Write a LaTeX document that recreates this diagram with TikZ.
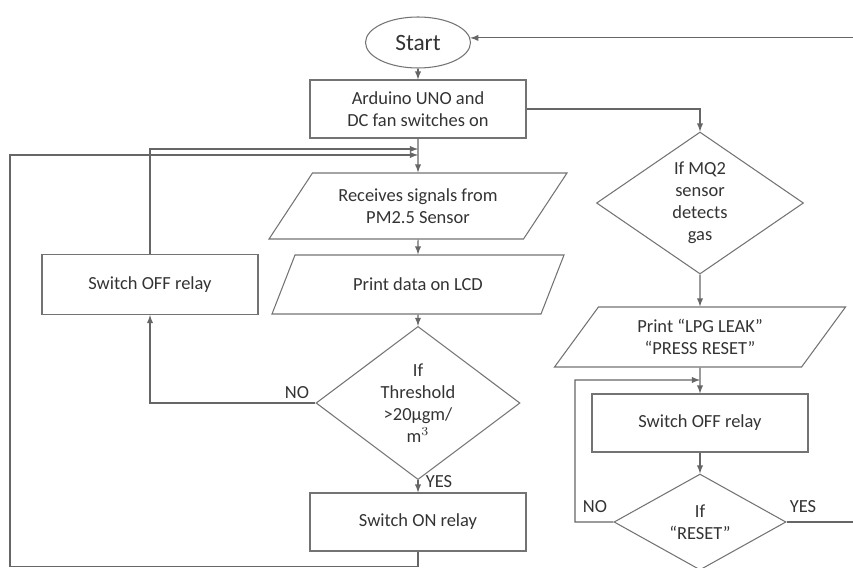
\documentclass[tikz,border=0pt]{standalone}
\usepackage{fontspec}
\setmainfont{Carlito}
\usetikzlibrary{shapes.geometric}

\begin{document}
\begin{tikzpicture}[
  box/.style={rectangle, draw=black!55, line width=0.6pt, minimum width=4.32cm, minimum height=1.16cm, align=center},
  io/.style={trapezium, trapezium left angle=47, trapezium right angle=133, trapezium stretches body, draw=black!55, line width=0.6pt, minimum width=5.96cm, minimum height=1.32cm, align=center},
  decision/.style={diamond, draw=black!55, line width=0.6pt, inner sep=0pt, align=center},
  startstop/.style={ellipse, draw=black!55, line width=0.6pt, minimum width=2.1cm, minimum height=1.02cm, font=\fontsize{13.3}{15}\selectfont},
  flow/.style={->, >=latex, draw=black!60, line width=0.6pt},
  font=\fontsize{10.5}{12.5}\selectfont, text=black!80
]
\useasboundingbox (0,0) rectangle (17.06,-11.34);

% Left column
\node[startstop] (start) at (8.36,-0.85) {Start};
\node[box, below of=start, node distance=1.33cm] (arduino) {Arduino UNO and\\DC fan switches on};
\node[io, below of=arduino, node distance=1.94cm] (recv) {Receives signals from\\PM2.5 Sensor};
\node[io, below of=recv, node distance=1.57cm, minimum height=1.18cm, minimum width=5.84cm] (lcd) {Print data on LCD};
\node[decision, below of=lcd, node distance=2.37cm, minimum width=4.08cm, minimum height=2.84cm] (thresh) {If\\Threshold\\>20µgm/\\$\mathrm{m}^3$};
\node[box, below of=thresh, node distance=2.38cm] (swon) {Switch ON relay};
\node[box, left of=lcd, node distance=5.36cm, minimum height=1.2cm] (swoff1) {Switch OFF relay};

% Right column
\node[decision, minimum width=4.14cm, minimum height=2.84cm] (mq2) at (14.0,-4.06) {If MQ2\\sensor\\detects\\gas};
\node[io, below of=mq2, node distance=2.68cm, minimum height=1.2cm, minimum width=5.82cm] (lpg) {Print “LPG LEAK”\\“PRESS RESET”};
\node[box, below of=lpg, node distance=1.72cm] (swoff2) {Switch OFF relay};
\node[decision, below of=swoff2, node distance=1.98cm, minimum width=3.44cm, minimum height=1.84cm] (reset) {If\\“RESET”};

% Labels
\node (no1) at (5.94,-7.86) {NO};
\node (yes1) at (8.78,-9.64) {YES};
\node (no2) at (11.9,-10.14) {NO};
\node (yes2) at (16.06,-10.14) {YES};

% Junctions
\coordinate (jtop) at (8.36,-2.98);
\coordinate (jbot) at (8.36,-3.1);
\coordinate (jlpg) at (14.0,-7.6);
\coordinate (loopl) at (0.2,-11.33);
\coordinate (loopr) at (17.4,-0.75);
\coordinate (noleft) at (11.5,-10.44);

% Arrows
\draw[flow] (start) -- (arduino);
\draw[flow] (arduino) -- (recv);
\draw[flow] (recv) -- (lcd);
\draw[flow] (lcd) -- (thresh);
\draw[flow] (thresh) -- (swon);
\draw[flow] (thresh.west) -| (swoff1.south);
\draw[flow] (swoff1.north) |- (jtop);
\draw[flow] (swon.south) |- (loopl) |- (jbot);
\draw[flow] (arduino.east) -| (mq2.north);
\draw[flow] (mq2) -- (lpg);
\draw[flow] (lpg) -- (swoff2);
\draw[flow] (swoff2) -- (reset);
\draw[flow] (reset.west) -- (noleft) |- (jlpg);
\draw[flow] (reset.east) -- (reset.east -| loopr) |- (start.5);
\end{tikzpicture}
\end{document}
